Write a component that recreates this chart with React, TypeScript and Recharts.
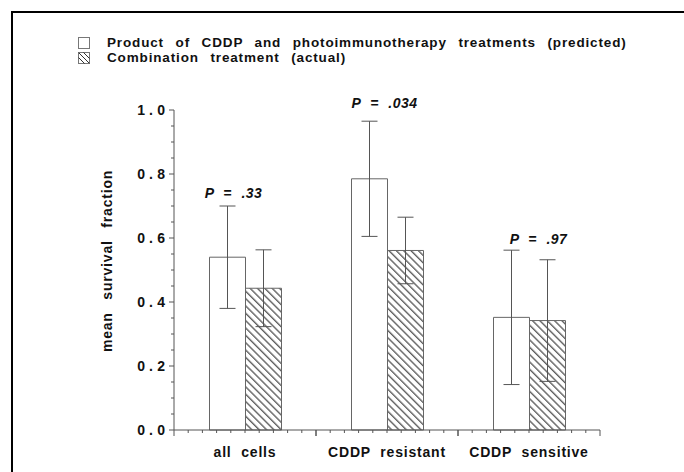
import { BarChart, Bar, XAxis, YAxis, ErrorBar, LabelList } from "recharts"

const categories = ["all cells", "CDDP resistant", "CDDP sensitive"]
const predicted = [0.54, 0.785, 0.352]
const predictedErr = [0.16, 0.18, 0.21]
const actual = [0.443, 0.561, 0.342]
const actualErr = [0.12, 0.104, 0.19]
const pValues = ["P = .33", "P = .034", "P = .97"]
const yMajorTicks = [0, 0.2, 0.4, 0.6, 0.8, 1.0]
const yTickLabels = ["0.0", "0.2", "0.4", "0.6", "0.8", "1.0"]

// annotation nudges (text only, not marks)
const pLabelDx = [-12, -3, 9]
const pLabelDy = [-8, -13, -6]

const W = 684
const H = 472
const M = { top: 110, right: 84, bottom: 0, left: 0 }
const Y_AXIS_W = 174
const X_AXIS_H = 42
const PLOT_W = W - M.left - M.right - Y_AXIS_W
const FONT = "'Liberation Sans', Arial, Helvetica, sans-serif"
const INK = "#111"
const LINE = "#555"

const yTicks: number[] = []
for (let i = 0; i <= 20; i++) yTicks.push(Math.round(i * 5) / 100)

const data = categories.map((c, i) => ({
  name: c,
  predicted: predicted[i],
  predErr: predictedErr[i],
  actual: actual[i],
  actErr: actualErr[i],
  p: pValues[i],
}))

function YTick(props: any) {
  const { x, y, payload } = props
  const v = payload.value
  const mi = yMajorTicks.findIndex((t) => Math.abs(t - v) < 1e-6)
  const major = mi >= 0
  const ls = 4.2
  return (
    <g>
      <line x1={x - (major ? 5 : 3)} x2={x} y1={y} y2={y} stroke={LINE} strokeWidth={1} />
      {major && (
        <text
          x={x - 9 + ls}
          y={y}
          dy={5}
          textAnchor="end"
          fontFamily={FONT}
          fontWeight="bold"
          fontSize={14}
          letterSpacing={ls}
          fill={INK}
        >
          {yTickLabels[mi]}
        </text>
      )}
    </g>
  )
}

function XTick(props: any) {
  const { x, y, payload } = props
  const band = PLOT_W / categories.length
  const marks = []
  for (let k = 0; k <= 10; k++) {
    const tx = x + ((k - 5) * band) / 10
    const len = k === 0 || k === 10 ? 6 : 3
    marks.push(<line key={k} x1={tx} x2={tx} y1={y} y2={y + len} stroke={LINE} strokeWidth={1} />)
  }
  return (
    <g>
      {marks}
      <text
        x={x}
        y={y + 27}
        textAnchor="middle"
        fontFamily={FONT}
        fontWeight="bold"
        fontSize={14}
        letterSpacing={0.8}
        wordSpacing={5}
        fill={INK}
      >
        {payload.value}
      </text>
    </g>
  )
}

function PLabel(props: any) {
  const { x, y, width, height, value } = props
  const i = pValues.indexOf(value)
  if (i < 0) return null
  const pxPerUnit = Number(height) / predicted[i]
  const base = Number(y) + Number(height)
  const top = Math.max(predicted[i] + predictedErr[i], actual[i] + actualErr[i])
  const cx = Number(x) + Number(width) + pLabelDx[i]
  const ty = base - top * pxPerUnit + pLabelDy[i]
  return (
    <text
      x={cx}
      y={ty}
      textAnchor="middle"
      fontFamily={FONT}
      fontWeight="bold"
      fontStyle="italic"
      fontSize={14}
      letterSpacing={0.5}
      wordSpacing={5}
      fill={INK}
    >
      {value}
    </text>
  )
}

function YLabel(props: any) {
  const vb = props.viewBox || { x: 0, y: 0, width: Y_AXIS_W, height: 320 }
  const cx = vb.x + vb.width - 67
  const cy = vb.y + vb.height / 2 - 9
  return (
    <text
      x={cx}
      y={cy}
      transform={`rotate(-90 ${cx} ${cy})`}
      textAnchor="middle"
      dy={5}
      fontFamily={FONT}
      fontWeight="bold"
      fontSize={14}
      letterSpacing={0.8}
      wordSpacing={8}
      fill={INK}
    >
      mean survival fraction
    </text>
  )
}

function LegendRow({ hatched, text, top }: { hatched: boolean; text: string; top: number }) {
  return (
    <div style={{ position: "absolute", left: 78, top, height: 13, display: "flex", alignItems: "center" }}>
      <svg width={12} height={12} style={{ display: "block" }}>
        <defs>
          <clipPath id={`lg-${top}`}>
            <rect x={0.5} y={0.5} width={11} height={11} />
          </clipPath>
        </defs>
        <rect x={0.5} y={0.5} width={11} height={11} fill="#fff" stroke="#777" />
        {hatched && (
          <g clipPath={`url(#lg-${top})`} stroke="#333" strokeWidth={1}>
            <line x1={0} y1={0} x2={12} y2={12} />
            <line x1={0} y1={5} x2={7} y2={12} />
            <line x1={5} y1={0} x2={12} y2={7} />
          </g>
        )}
      </svg>
      <span
        style={{
          marginLeft: 17,
          fontFamily: FONT,
          fontWeight: "bold",
          fontSize: 13.5,
          letterSpacing: 0.85,
          wordSpacing: 7,
          color: INK,
          whiteSpace: "nowrap",
          lineHeight: "13px",
        }}
      >
        {text}
      </span>
    </div>
  )
}

export default function App() {
  return (
    <div style={{ position: "absolute", left: 0, top: 0, width: W, height: H, background: "#fff", overflow: "hidden" }}>
      <div
        style={{
          position: "absolute",
          left: 11,
          top: 11,
          width: W + 20,
          height: H + 20,
          borderTop: "2px solid #000",
          borderLeft: "2px solid #000",
        }}
      />
      <LegendRow hatched={false} text="Product of CDDP and photoimmunotherapy treatments (predicted)" top={36} />
      <LegendRow hatched={true} text="Combination treatment (actual)" top={51} />
      <div style={{ position: "absolute", left: 0, top: 0 }}>
        <BarChart width={W} height={H} data={data} margin={M} barCategoryGap="25%" barGap={0}>
          <defs>
            <pattern id="hatch" patternUnits="userSpaceOnUse" width={5.2} height={5.2} patternTransform="rotate(45)">
              <line x1={0} y1={1} x2={5.2} y2={1} stroke="#333" strokeWidth={1.1} />
            </pattern>
          </defs>
          <XAxis
            dataKey="name"
            height={X_AXIS_H}
            tickLine={false}
            tickSize={0}
            tickMargin={0}
            axisLine={{ stroke: LINE }}
            tick={<XTick />}
            interval={0}
          />
          <YAxis
            width={Y_AXIS_W}
            domain={[0, 1]}
            ticks={yTicks}
            interval={0}
            tickLine={false}
            tickSize={0}
            tickMargin={0}
            axisLine={{ stroke: LINE }}
            tick={<YTick />}
            label={<YLabel />}
          />
          <Bar dataKey="predicted" fill="#fff" stroke="#666" strokeWidth={1} isAnimationActive={false}>
            <ErrorBar dataKey="predErr" width={8} stroke={LINE} strokeWidth={1} direction="y" isAnimationActive={false} />
            <LabelList dataKey="p" content={<PLabel />} />
          </Bar>
          <Bar dataKey="actual" fill="url(#hatch)" stroke="#666" strokeWidth={1} isAnimationActive={false}>
            <ErrorBar dataKey="actErr" width={8} stroke={LINE} strokeWidth={1} direction="y" isAnimationActive={false} />
          </Bar>
        </BarChart>
      </div>
    </div>
  )
}
